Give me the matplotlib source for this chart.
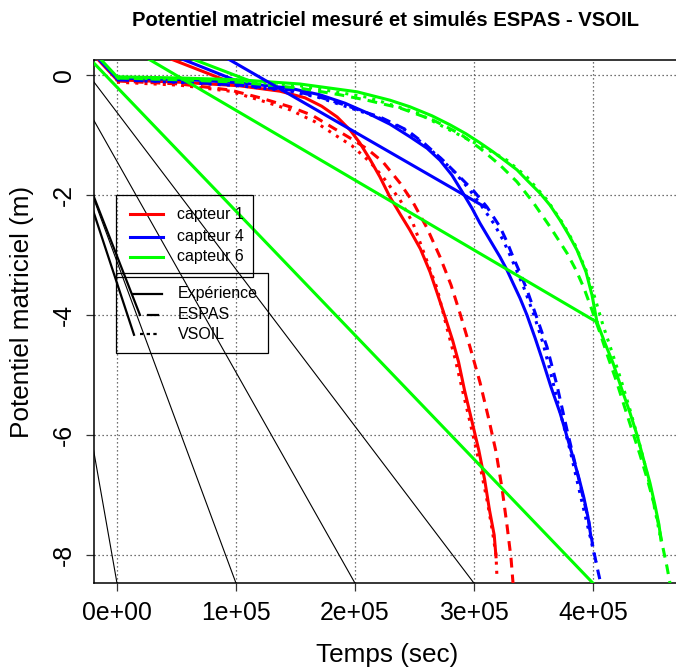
import matplotlib
matplotlib.use("Agg")
import matplotlib.pyplot as plt
from matplotlib.patches import Rectangle

plt.rcParams['font.family'] = ['Liberation Sans', 'DejaVu Sans']

# ---------------- data (time in s, potential in m) ----------------
red_exp_t = [0, 53000, 103000, 137000, 158000, 172000, 185000, 196000, 204000, 213000, 221000,
             229000, 238000, 246000, 255000, 263000, 269000, 276000, 282000, 287000, 292000,
             298000, 304000, 309000, 313000, 317000, 318500]
red_exp_h = [-0.08, -0.12, -0.18, -0.27, -0.38, -0.52, -0.7, -0.92, -1.13, -1.42, -1.7,
             -2.02, -2.32, -2.58, -2.9, -3.28, -3.63, -4.05, -4.42, -4.78, -5.25,
             -5.75, -6.25, -6.75, -7.25, -7.67, -8.03]
red_esp_t = [0, 52900, 95000, 120200, 145400, 163900, 181500, 195800, 210100, 223500, 237800,
             248700, 260500, 271400, 280700, 288200, 296600, 305000, 312600, 318500, 323500,
             327700, 331100, 332800]
red_esp_h = [-0.1, -0.15, -0.25, -0.38, -0.53, -0.67, -0.88, -1.05, -1.23, -1.45, -1.8,
             -2.12, -2.55, -3.03, -3.5, -3.97, -4.53, -5.12, -5.75, -6.28, -6.88,
             -7.5, -8.05, -8.47]
red_vso_t = [0, 52900, 95000, 120200, 145400, 166400, 183200, 197500, 212600, 223500, 237800,
             248700, 257100, 268900, 277300, 284000, 289900, 296600, 301700, 306700, 311800,
             316000, 318500, 319300]
red_vso_h = [-0.12, -0.17, -0.27, -0.42, -0.58, -0.78, -1.0, -1.18, -1.45, -1.7, -2.08,
             -2.47, -2.92, -3.55, -4.22, -4.72, -5.22, -5.78, -6.22, -6.67, -7.17,
             -7.67, -8.0, -8.37]

blue_exp_t = [0, 61300, 103400, 145400, 170600, 191600, 210100, 229400, 246200, 260500, 271400,
              281500, 290800, 298300, 305000, 313400, 321800, 327700, 332800, 338700, 344500,
              351300, 358000, 364700, 372300, 378200, 383200, 388200, 392400, 395800, 398300]
blue_exp_h = [-0.05, -0.08, -0.13, -0.22, -0.33, -0.47, -0.63, -0.82, -1.03, -1.22, -1.42,
              -1.67, -1.97, -2.22, -2.47, -2.75, -3.03, -3.25, -3.47, -3.72, -4.0,
              -4.38, -4.78, -5.2, -5.63, -6.03, -6.37, -6.72, -7.05, -7.37, -7.7]
blue_esp_t = [0, 61300, 103400, 145400, 170600, 191600, 208400, 221000, 233600, 243700, 258800,
              273900, 286600, 299200, 310900, 321800, 327700, 332800, 338700, 344500, 352900,
              361300, 369700, 378200, 384900, 391600, 396600, 400000, 403400, 405900]
blue_esp_h = [-0.08, -0.12, -0.17, -0.25, -0.37, -0.5, -0.62, -0.7, -0.82, -0.92, -1.15,
              -1.42, -1.67, -1.92, -2.2, -2.53, -2.78, -3.03, -3.3, -3.58, -4.05,
              -4.53, -5.17, -5.92, -6.47, -7.03, -7.45, -7.87, -8.2, -8.42]
blue_vso_t = [0, 61300, 103400, 145400, 170600, 191600, 208400, 221000, 233600, 243700, 258800,
              271400, 284000, 295000, 305900, 316800, 324400, 330200, 336100, 342000, 350400,
              358000, 365500, 373100, 380700, 387400, 393300, 398300, 402500]
blue_vso_h = [-0.08, -0.13, -0.18, -0.27, -0.38, -0.52, -0.63, -0.72, -0.83, -0.93, -1.17,
              -1.38, -1.63, -1.88, -2.17, -2.48, -2.75, -3.0, -3.27, -3.55, -4.0,
              -4.47, -5.05, -5.67, -6.25, -6.83, -7.33, -7.75, -8.12]

green_exp_t = [0, 52900, 103400, 153800, 201700, 229400, 246200, 264700, 279800, 293300, 305000,
               316000, 326100, 336100, 345400, 355500, 363900, 372300, 379800, 386600, 394100,
               399200, 403400, 410100, 416800, 424400, 431100, 437000, 442000, 447900, 452100,
               455500, 457100]
green_exp_h = [-0.03, -0.05, -0.08, -0.15, -0.28, -0.42, -0.53, -0.68, -0.83, -0.98, -1.13,
               -1.28, -1.43, -1.58, -1.77, -1.97, -2.17, -2.42, -2.67, -2.92, -3.28,
               -3.67, -4.12, -4.47, -4.8, -5.25, -5.63, -6.0, -6.37, -6.8, -7.17,
               -7.5, -7.75]
green_esp_t = [0, 52900, 103400, 153800, 187400, 210100, 237800, 265500, 288200, 305000, 321800,
               336100, 349600, 363900, 378200, 385700, 392400, 399200, 405900, 412600, 419300,
               426000, 432800, 439500, 445400, 450400, 454600, 458800, 462200, 464700]
green_esp_h = [-0.05, -0.08, -0.12, -0.22, -0.33, -0.42, -0.55, -0.75, -0.98, -1.22, -1.5,
               -1.78, -2.12, -2.53, -2.97, -3.25, -3.55, -3.92, -4.3, -4.7, -5.08,
               -5.5, -5.92, -6.33, -6.72, -7.08, -7.45, -7.88, -8.2, -8.47]
green_vso_t = [0, 52900, 103400, 153800, 210100, 252100, 279800, 307600, 327700, 344500, 361300,
               373900, 384900, 394100, 401700, 408400, 416000, 423500, 431100, 437800, 443700,
               448700, 452900, 456300]
green_vso_h = [-0.05, -0.07, -0.1, -0.18, -0.37, -0.63, -0.92, -1.2, -1.42, -1.7, -2.08,
               -2.45, -2.83, -3.25, -3.72, -4.17, -4.62, -5.08, -5.58, -6.05, -6.5,
               -6.92, -7.33, -7.67]

# straight connecting segments (start t, start h, end t, end h)
corner_segs = {'red': (-25000, 0.45, 0, -0.08), 'blue': (-25000, 0.47, 0, -0.06),
               'green': (-25000, 0.5, 0, -0.03)}
band_segs = {'red': (15100, 0.5, 99200, -0.15), 'blue': (25200, 0.5, 103400, -0.12),
             'green': (32800, 0.5, 109200, -0.08)}
blue_return = (86600, 0.345, 309200, -2.2)
green_return1 = (-31100, 0.44, 400000, -8.47)
green_return2 = (19300, 0.35, 403400, -4.12)

black_origin = (-90750, 1.75)
black_ends_t = [0, 100000, 200000, 300000]
black_end_h = -8.47
black_thick = [(-26900, -1.65, 19300, -4.0), (-26900, -1.85, 14300, -4.33)]

xticks = [0, 100000, 200000, 300000, 400000]
xtick_labels = ['0e+00', '1e+05', '2e+05', '3e+05', '4e+05']
yticks = [-8, -6, -4, -2, 0]
ytick_labels = ['-8', '-6', '-4', '-2', '0']

leg1_labels = ['capteur 1', 'capteur 4', 'capteur 6']
leg1_colors = ['#FF0000', '#0000FF', '#00FF00']
leg2_labels = ['Expérience', 'ESPAS', 'VSOIL']

# ---------------- figure ----------------
W, H = 676, 670
fig = plt.figure(figsize=(W / 100, H / 100), dpi=100)
ax = fig.add_axes([94 / W, 87 / H, (677 - 94) / W, (583 - 60) / H])
ax.set_xlim(-19328, 470600)
ax.set_ylim(-8.467, 0.25)

grid_style = dict(color='#444444', lw=0.9, linestyle=(0, (1, 2.2)), zorder=1)
for xt in xticks:
    ax.axvline(xt, **grid_style)
for yt in yticks:
    ax.axhline(yt, **grid_style)

LW = 2.2
dash = (0, (3.2, 2.3))
dot = (0, (1.0, 2.0))
cols = {'red': '#FF0000', 'blue': '#0000FF', 'green': '#00FF00'}
series = {
    'red': [(red_exp_t, red_exp_h), (red_esp_t, red_esp_h), (red_vso_t, red_vso_h)],
    'blue': [(blue_exp_t, blue_exp_h), (blue_esp_t, blue_esp_h), (blue_vso_t, blue_vso_h)],
    'green': [(green_exp_t, green_exp_h), (green_esp_t, green_esp_h), (green_vso_t, green_vso_h)],
}

# black thin lines
for te in black_ends_t:
    ax.plot([black_origin[0], te], [black_origin[1], black_end_h], color='black', lw=0.8, zorder=2)
for s in black_thick:
    ax.plot([s[0], s[2]], [s[1], s[3]], color='black', lw=1.6, zorder=2)

for name in ['red', 'blue', 'green']:
    c = cols[name]
    (te, he), (ts, hs), (tv, hv) = series[name]
    ax.plot(te, he, color=c, lw=LW, zorder=3, solid_joinstyle='round')
    ax.plot(ts, hs, color=c, lw=LW, linestyle=dash, zorder=3)
    ax.plot(tv, hv, color=c, lw=LW, linestyle=dot, zorder=3)
    s = corner_segs[name]
    ax.plot([s[0], s[2]], [s[1], s[3]], color=c, lw=LW, zorder=3)
    s = band_segs[name]
    ax.plot([s[0], s[2]], [s[1], s[3]], color=c, lw=LW, zorder=3)

for s, c in [(blue_return, cols['blue']), (green_return1, cols['green']), (green_return2, cols['green'])]:
    ax.plot([s[0], s[2]], [s[1], s[3]], color=c, lw=LW, zorder=3)

# legends (transparent boxes, as drawn in the original)
ax.add_patch(Rectangle((-840, -3.37), 115140, 1.37, fill=False, ec='black', lw=0.9, zorder=4))
ax.add_patch(Rectangle((-840, -4.63), 127740, 1.33, fill=False, ec='black', lw=0.9, zorder=4))
row1_y = [-2.32, -2.7, -3.03]
for lab, c, yy in zip(leg1_labels, leg1_colors, row1_y):
    ax.plot([10900, 38700], [yy, yy], color=c, lw=LW, zorder=5)
    ax.text(50400, yy, lab, fontsize=11.5, va='center', ha='left', zorder=5)
row2_y = [-3.65, -4.0, -4.32]
ax.plot([13400, 37800], [row2_y[0]] * 2, color='black', lw=1.6, zorder=5)
ax.plot([26100, 34500], [row2_y[1]] * 2, color='black', lw=1.6, zorder=5)
ax.plot([19300, 36100], [row2_y[2]] * 2, color='black', lw=1.6, linestyle=(0, (1.5, 1.5)), zorder=5)
for lab, yy in zip(leg2_labels, row2_y):
    ax.text(51300, yy, lab, fontsize=11.5, va='center', ha='left', zorder=5)

ax.set_xticks(xticks)
ax.set_xticklabels(xtick_labels, fontsize=17.8)
ax.set_yticks(yticks)
ax.set_yticklabels(ytick_labels, fontsize=17.8, rotation=90, va='center')
ax.tick_params(axis='both', length=6, width=0.9, direction='out', color='#333333')
ax.tick_params(axis='x', pad=7)
ax.tick_params(axis='y', pad=7)
for sp in ax.spines.values():
    sp.set_linewidth(1.1)
    sp.set_color('black')

fig.text(385 / W, 1 - 21 / H, 'Potentiel matriciel mesuré et simulés ESPAS - VSOIL',
         fontsize=14.6, fontweight='bold', ha='center', va='center')
fig.text(387 / W, 1 - 655 / H, 'Temps (sec)', fontsize=18.8, ha='center', va='center')
fig.text(22 / W, 1 - 312 / H, 'Potentiel matriciel (m)', fontsize=18.8, ha='center', va='center',
         rotation=90)

fig.savefig('out.png', dpi=100)
